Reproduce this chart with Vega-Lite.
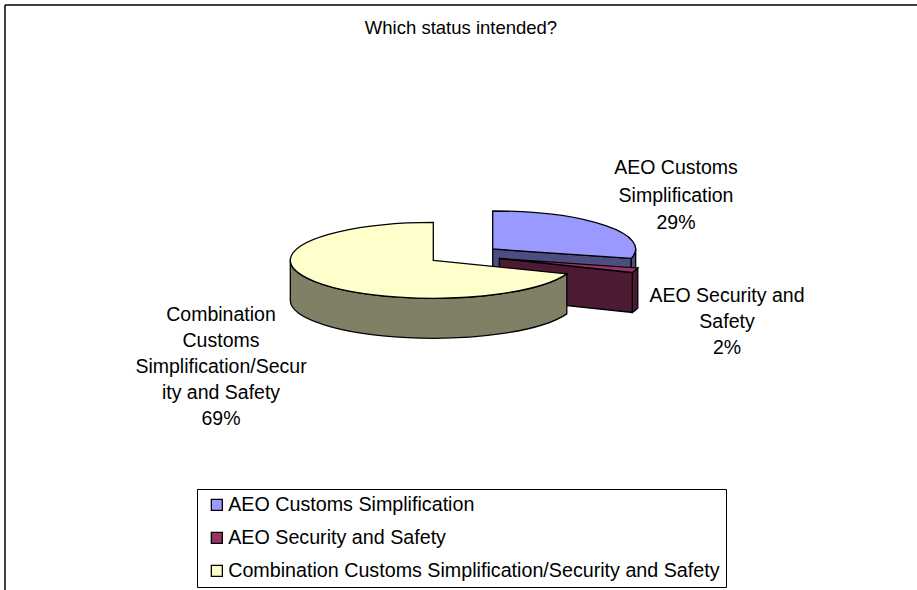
{"$schema":"https://vega.github.io/schema/vega-lite/v6.json","width":912,"height":585,"autosize":"none","padding":{"left":5,"top":5,"right":0,"bottom":0},"background":"white","view":{"stroke":null},
"title":{"text":"Which status intended?","font":"Liberation Sans","fontSize":18.5,"fontWeight":"normal","color":"black","anchor":"middle","frame":"group","baseline":"middle","offset":-42},
"config":{"font":"Liberation Sans"},
"data":{"values":[
{"status":"AEO Customs Simplification","value":29,"label":["AEO Customs","Simplification","29%"]},
{"status":"AEO Security and Safety","value":2,"label":["AEO Security and","Safety","2%"]},
{"status":"Combination Customs Simplification/Security and Safety","value":69,"label":["Combination","Customs","Simplification/Secur","ity and Safety","69%"]}]},
"layer":[
{"transform":[{"filter":"datum.value==29"}],"mark":{"type":"rule","stroke":"black","strokeWidth":1.5},"encoding":{"y":{"value":0}}},
{"transform":[{"filter":"datum.value==29"}],"mark":{"type":"rule","stroke":"black","strokeWidth":1.5},"encoding":{"x":{"value":0}}},
{"transform":[{"filter":"datum.value==29"}],"mark":{"type":"point","shape":"M0,0L138.5,9.45L138.5,49.45L0,40Z","size":4,"filled":true,"fill":"#4d4d80","opacity":1,"stroke":"black","strokeWidth":1.3,"xOffset":31.7,"yOffset":-48.5},"encoding":{}},
{"transform":[{"filter":"datum.value==29"}],"mark":{"type":"point","shape":"M143,0A143,38,0,0,1,138.5,9.45L138.5,49.45A143,38,0,0,0,143,40Z","size":4,"filled":true,"fill":"#4d4d80","opacity":1,"stroke":"black","strokeWidth":1.3,"xOffset":31.7,"yOffset":-48.5},"encoding":{}},
{"transform":[{"filter":"datum.value==29"}],"mark":{"type":"point","shape":"M0,0L0,-38A143,38,0,0,1,138.5,9.45Z","size":4,"filled":true,"opacity":1,"stroke":"black","strokeWidth":1.3,"xOffset":31.7,"yOffset":-48.5},"encoding":{"fill":{"field":"status","type":"nominal","sort":null,"scale":{"domain":["AEO Customs Simplification","AEO Security and Safety","Combination Customs Simplification/Security and Safety"],"range":["#9999ff","#993366","#ffffcc"]},"legend":{"title":null,"orient":"none","legendX":192,"legendY":484,"symbolType":"square","symbolSize":121,"symbolStrokeColor":"black","symbolStrokeWidth":1.3,"symbolOffset":4,"labelFont":"Liberation Sans","labelFontSize":19.7,"labelColor":"black","labelLimit":600,"strokeColor":"black","fillColor":"white","padding":6,"rowPadding":12,"labelOffset":1.5,"values":["AEO Customs Simplification","AEO Security and Safety","Combination Customs Simplification/Security and Safety"]}}}},
{"transform":[{"filter":"datum.value==2"}],"mark":{"type":"point","shape":"M138.5,9.45A143,38,0,0,1,133,14L133,54A143,38,0,0,0,138.5,49.45Z","size":4,"filled":true,"fill":"#4d1a33","opacity":1,"stroke":"black","strokeWidth":1.3,"xOffset":38.3,"yOffset":-39},"encoding":{}},
{"transform":[{"filter":"datum.value==2"}],"mark":{"type":"point","shape":"M0,0L133,14L133,54L0,40Z","size":4,"filled":true,"fill":"#4d1a33","opacity":1,"stroke":"black","strokeWidth":1.3,"xOffset":38.3,"yOffset":-39},"encoding":{}},
{"transform":[{"filter":"datum.value==2"}],"mark":{"type":"point","shape":"M0,0L138.5,9.45A143,38,0,0,1,133,14Z","size":4,"filled":true,"opacity":1,"stroke":"black","strokeWidth":1.3,"xOffset":38.3,"yOffset":-39},"encoding":{"fill":{"field":"status","type":"nominal"}}},
{"transform":[{"filter":"datum.value==69"}],"mark":{"type":"point","shape":"M133.5,13.6A143,38,0,0,1,-143,0L-143,40A143,38,0,0,0,133.5,53.6Z","size":4,"filled":true,"fill":"#808066","opacity":1,"stroke":"black","strokeWidth":1.3,"xOffset":-27.7,"yOffset":-37.2},"encoding":{}},
{"transform":[{"filter":"datum.value==69"}],"mark":{"type":"point","shape":"M0,0L133.5,13.6A143,38,0,1,1,0,-38Z","size":4,"filled":true,"opacity":1,"stroke":"black","strokeWidth":1.3,"xOffset":-27.7,"yOffset":-37.2},"encoding":{"fill":{"field":"status","type":"nominal"}}},
{"transform":[{"filter":"datum.value==29"}],"mark":{"type":"text","font":"Liberation Sans","fontSize":19.5,"lineHeight":27.5,"align":"center","baseline":"middle","color":"black","dx":215,"dy":-129.5},"encoding":{"text":{"field":"label"}}},
{"transform":[{"filter":"datum.value==2"}],"mark":{"type":"text","font":"Liberation Sans","fontSize":19.5,"lineHeight":26,"align":"center","baseline":"middle","color":"black","dx":266,"dy":-1.5},"encoding":{"text":{"field":"label"}}},
{"transform":[{"filter":"datum.value==69"}],"mark":{"type":"text","font":"Liberation Sans","fontSize":19.5,"lineHeight":26,"align":"center","baseline":"middle","color":"black","dx":-240,"dy":17.5},"encoding":{"text":{"field":"label"}}}
]}
